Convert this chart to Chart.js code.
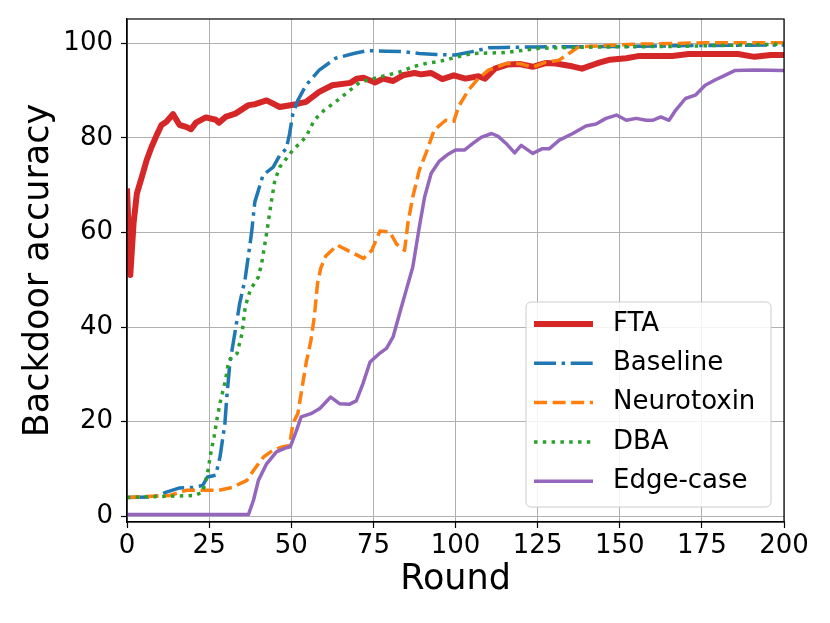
<!DOCTYPE html>
<html lang="en">
<head>
    <meta charset="UTF-8">
    <title>Backdoor accuracy</title>
    <script src="https://cdn.jsdelivr.net/npm/chart.js"></script>
    <style>
        body { margin: 0; background: #fff; }
    </style>
</head>
<body>
    <canvas id="accChart" width="830" height="623"></canvas>

    <script>
        // values (round, accuracy)
        const ftaRounds = [0, 1, 2, 3, 4.5, 6, 7.5, 9, 10.5, 12, 14, 16, 18, 19.5, 21, 24, 27, 28, 30, 33, 37, 39, 42.5, 46.5, 51.5, 54.5, 58.5, 62.5, 68, 70, 72, 75.5, 78, 81, 84, 87.5, 89.5, 92.5, 96, 99.5, 103, 107, 109, 112, 116, 119.5, 123.5, 127.5, 130.5, 135.5, 138.5, 143, 147, 152, 156, 161, 166, 171, 176, 181, 186, 191, 196, 200];
        const ftaAcc = [69.3, 51, 61.9, 68.2, 71.7, 75.3, 78.1, 80.5, 82.7, 83.4, 85, 82.7, 82.3, 81.8, 83.2, 84.3, 83.8, 83.2, 84.4, 85.1, 86.9, 87.1, 87.9, 86.5, 87.1, 87.6, 89.7, 91.1, 91.6, 92.5, 92.7, 91.7, 92.5, 92, 93.2, 93.7, 93.4, 93.7, 92.4, 93.2, 92.5, 93, 92.5, 94.6, 95.5, 95.6, 95, 95.8, 95.7, 95.1, 94.6, 95.7, 96.5, 96.8, 97.3, 97.3, 97.3, 97.7, 97.7, 97.7, 97.7, 97.1, 97.5, 97.5];

        const baseRounds = [0, 8, 12, 16, 20, 23, 24.5, 27, 28.3, 29.8, 30.3, 31.3, 32.8, 34.3, 35.9, 36.9, 37.9, 38.9, 41.4, 44.5, 46.5, 48.5, 49.5, 50.5, 52, 54.5, 58.5, 63.5, 69, 73, 79, 84, 89, 94, 100, 105, 110, 115, 125, 150, 175, 200];
        const baseAcc = [4, 4.1, 5.1, 6, 6.1, 6.5, 8.3, 8.7, 12.5, 19.6, 24.5, 32.3, 38.6, 45, 49.9, 54.8, 59.8, 66.4, 72.1, 73.8, 76.3, 77.7, 80.9, 85.1, 87.9, 91.1, 94.3, 96.8, 97.8, 98.4, 98.3, 98.2, 97.8, 97.6, 97.5, 98.2, 99, 99.1, 99.2, 99.3, 99.5, 99.6];

        const neuroRounds = [0, 13, 18, 28, 32, 36.5, 38.5, 41.5, 44.5, 47.5, 49.5, 50.5, 52, 53.5, 54.5, 56, 57, 58, 59, 60.5, 64, 68, 72, 74.5, 77, 80, 82, 84.5, 85.5, 87, 89, 91, 93.5, 97, 99.5, 101, 104, 106.5, 110, 115.5, 119.5, 123.5, 127.5, 131.5, 134.5, 137.5, 146, 156, 166, 176, 200];
        const neuroAcc = [4, 4.4, 5.5, 5.5, 6.1, 7.6, 9.7, 12.5, 14, 14.7, 15, 19.6, 21.7, 28, 32.3, 37.2, 42.1, 49.2, 52.5, 55, 57.3, 55.9, 54.5, 56.2, 60.3, 60.1, 57.6, 56.2, 61.9, 67.5, 73.2, 76.7, 81.6, 83.7, 83.5, 86.7, 90.1, 92.2, 94.3, 95.7, 95.7, 94.9, 96, 96.4, 97.8, 99.2, 99.5, 99.8, 99.9, 100.1, 100.1];

        const dbaRounds = [0, 20.5, 23, 24.5, 25.5, 26.5, 27.5, 28.5, 30, 31, 33.5, 35, 36, 37.5, 40, 41, 42.5, 44, 45, 46.5, 48.5, 50.5, 52.5, 54.5, 57, 60, 63.5, 68, 71, 75, 79, 83, 87, 91, 95, 100, 105, 115, 125.5, 135.5, 146, 166, 200];
        const dbaAcc = [4, 4.4, 5.1, 9, 13.3, 16.8, 21, 24.5, 28.8, 33, 34.4, 38.6, 44.3, 47.8, 50.6, 53.5, 59.8, 66.8, 71, 73.8, 75.6, 77.4, 78.8, 80.2, 83.7, 85.8, 87.6, 90.1, 91.8, 92.5, 93.2, 93.9, 95, 95.7, 96.1, 97, 97.8, 98, 98.9, 99.1, 99.2, 99.3, 99.8];

        const edgeRounds = [0, 37, 38.5, 40, 42.5, 45.5, 48.5, 49.7, 51.4, 53, 56, 58.7, 62, 64.7, 67.8, 69.8, 71.8, 74, 77, 79, 81, 83, 85, 87, 89, 90.6, 92.6, 95, 97.5, 100, 102.7, 105.3, 107.8, 111, 113, 115.4, 118, 120, 123.5, 126.5, 128.6, 131.6, 135.7, 139.7, 142.8, 145.8, 149, 152, 155, 158, 160, 162.5, 165, 167, 170, 173, 176, 179, 182, 185, 191, 200];
        const edgeAcc = [0.4, 0.4, 3.4, 7.6, 11.1, 13.6, 14.5, 14.7, 17.8, 21, 21.7, 22.8, 25.2, 23.8, 23.7, 24.4, 28, 32.6, 34.5, 35.5, 37.9, 42.9, 47.8, 52.7, 61.2, 67.5, 72.5, 75, 76.4, 77.4, 77.4, 78.8, 80.1, 80.9, 80.3, 78.8, 76.8, 78.4, 76.7, 77.7, 77.7, 79.5, 80.9, 82.5, 82.9, 84.1, 84.8, 83.7, 84.1, 83.7, 83.7, 84.4, 83.7, 85.8, 88.3, 89, 91.1, 92.2, 93.2, 94.2, 94.3, 94.2];

        const seriesNames = ['FTA', 'Baseline', 'Neurotoxin', 'DBA', 'Edge-case'];
        const xTicks = [0, 25, 50, 75, 100, 125, 150, 175, 200];
        const yTicks = [0, 20, 40, 60, 80, 100];

        const pts = (xs, ys) => xs.map((x, i) => ({ x: x, y: ys[i] }));
        const FONT = "'DejaVu Sans', sans-serif";

        function line(label, data, color, width, dash, order) {
            return {
                label: label,
                data: data,
                borderColor: color,
                backgroundColor: color,
                borderWidth: width,
                borderDash: dash,
                borderJoinStyle: 'round',
                borderCapStyle: 'butt',
                pointRadius: 0,
                tension: 0,
                fill: false,
                order: order
            };
        }

        // frame round the plot + matplotlib style legend
        const framePlugin = {
            id: 'frame',
            afterDraw(chart) {
                const { ctx, chartArea: a } = chart;
                ctx.save();
                ctx.strokeStyle = '#000';
                ctx.lineWidth = 1.2;
                ctx.strokeRect(a.left, a.top, a.right - a.left, a.bottom - a.top);

                const w = 245, h = 205;
                const x0 = a.right - 13 - w, y0 = a.bottom - 15 - h;
                ctx.beginPath();
                ctx.roundRect(x0, y0, w, h, 5);
                ctx.fillStyle = 'rgba(255,255,255,0.85)';
                ctx.fill();
                ctx.strokeStyle = '#cccccc';
                ctx.lineWidth = 1;
                ctx.stroke();

                chart.data.datasets.forEach((ds, i) => {
                    const yy = y0 + 22 + i * 39.3;
                    ctx.beginPath();
                    ctx.setLineDash(ds.borderDash || []);
                    ctx.strokeStyle = ds.borderColor;
                    ctx.lineWidth = ds.borderWidth;
                    ctx.moveTo(x0 + 8, yy);
                    ctx.lineTo(x0 + 67, yy);
                    ctx.stroke();
                    ctx.setLineDash([]);
                    ctx.fillStyle = '#000';
                    ctx.font = '26px ' + FONT;
                    ctx.textBaseline = 'middle';
                    ctx.textAlign = 'left';
                    ctx.fillText(ds.label, x0 + 87, yy);
                });
                ctx.restore();
            }
        };

        const ctx = document.getElementById('accChart').getContext('2d');
        const accChart = new Chart(ctx, {
            type: 'line',
            data: {
                datasets: [
                    line(seriesNames[0], pts(ftaRounds, ftaAcc), '#d62728', 6, [], 5),
                    line(seriesNames[1], pts(baseRounds, baseAcc), '#1f77b4', 3.5, [22, 5.6, 3.5, 5.6], 4),
                    line(seriesNames[2], pts(neuroRounds, neuroAcc), '#ff7f0e', 3.5, [13, 5.6], 3),
                    line(seriesNames[3], pts(dbaRounds, dbaAcc), '#2ca02c', 3.5, [3.5, 5.3], 2),
                    line(seriesNames[4], pts(edgeRounds, edgeAcc), '#9467bd', 3.5, [], 1)
                ]
            },
            options: {
                responsive: false,
                animation: false,
                devicePixelRatio: 1,
                layout: { padding: { top: 19, right: 46, left: 0, bottom: 0 } },
                plugins: {
                    legend: { display: false },
                    tooltip: { enabled: false }
                },
                scales: {
                    x: {
                        type: 'linear',
                        min: 0,
                        max: 200,
                        afterFit: s => { s.height = 101; s.paddingLeft = 0; s.paddingRight = 0; },
                        afterBuildTicks: s => { s.ticks = xTicks.map(v => ({ value: v })); },
                        ticks: { color: '#000', font: { family: FONT, size: 26 }, padding: 3, maxRotation: 0, autoSkip: false },
                        grid: { color: '#b0b0b0', lineWidth: 1, tickColor: '#000', tickLength: 6, tickWidth: 1.2 },
                        border: { display: true, color: '#000', width: 1.2 },
                        title: { display: true, text: 'Round', color: '#000', font: { family: FONT, size: 35 }, padding: { top: 0, bottom: 22 } }
                    },
                    y: {
                        min: -1.2,
                        max: 105.1,
                        afterFit: s => { s.width = 127; s.paddingTop = 0; s.paddingBottom = 0; },
                        afterBuildTicks: s => { s.ticks = yTicks.map(v => ({ value: v })); },
                        ticks: { color: '#000', font: { family: FONT, size: 26 }, padding: 8 },
                        grid: { color: '#b0b0b0', lineWidth: 1, tickColor: '#000', tickLength: 6, tickWidth: 1.2 },
                        border: { display: true, color: '#000', width: 1.2 },
                        title: { display: true, text: 'Backdoor accuracy', color: '#000', font: { family: FONT, size: 35 }, padding: { top: 18, bottom: 0 } }
                    }
                }
            },
            plugins: [framePlugin]
        });
    </script>
</body>
</html>
